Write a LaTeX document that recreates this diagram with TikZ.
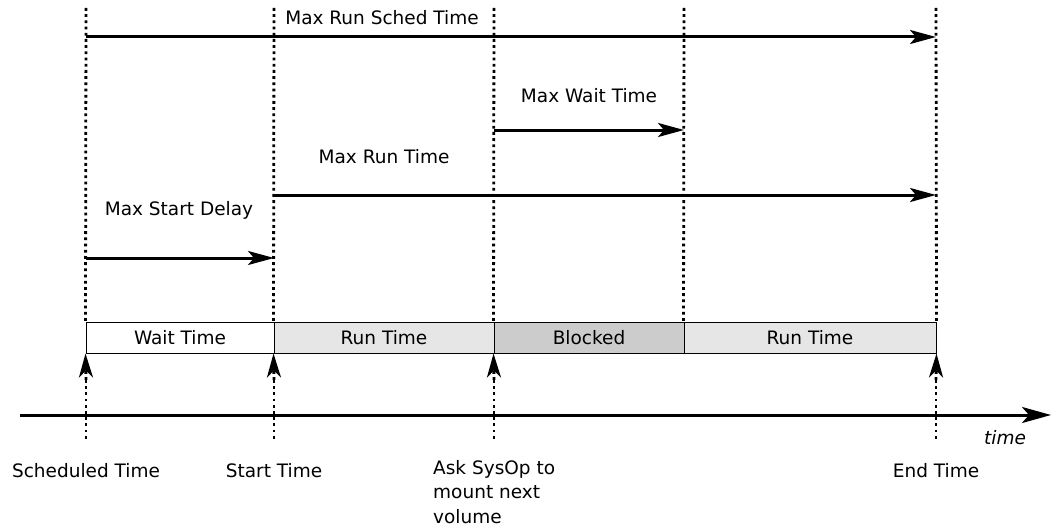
\documentclass[tikz,border=0pt]{standalone}
\usepackage{fontspec}
\setmainfont{DejaVu Sans}
\usetikzlibrary{positioning}
\usetikzlibrary{arrows.meta}
\definecolor{runcol}{RGB}{230, 230, 230}
\definecolor{blockcol}{RGB}{204, 204, 204}

\begin{document}
\begin{tikzpicture}[x=1pt, y=1pt, font=\fontsize{18.5}{24.5}\selectfont]
\tikzset{
  guide/.style={line width=2.8pt, dash pattern=on 2.8pt off 3.4pt},
  span/.style={line width=3pt, -{Stealth[length=26pt, width=14pt, inset=6pt]}},
  eventmark/.style={line width=2.8pt, dash pattern=on 2.8pt off 3.4pt, -{Stealth[length=24pt, width=14pt, inset=7pt]}},
  phase/.style={draw=black, line width=1pt, inner sep=0pt, minimum height=31pt}
}
\useasboundingbox (0pt, 0pt) rectangle (1051pt, -532pt);
% guides
\coordinate (t1) at (86pt, -8pt);
\coordinate (t2) at (274pt, -8pt);
\coordinate (t3) at (494pt, -8pt);
\coordinate (t4) at (684pt, -8pt);
\coordinate (t5) at (936pt, -8pt);
\coordinate (b1) at (86pt, -441pt);
\coordinate (b2) at (274pt, -441pt);
\coordinate (b3) at (494pt, -441pt);
\coordinate (b5) at (936pt, -441pt);
\coordinate (m1) at (86pt, -380pt);
\coordinate (m2) at (274pt, -380pt);
\coordinate (m3) at (494pt, -380pt);
\coordinate (m5) at (936pt, -380pt);
% phases
\node (wait) [phase, fill=white, minimum width=188pt] at (180pt, -337.5pt) {Wait Time};
\node (run1) [phase, fill=runcol, minimum width=220pt] at (384pt, -337.5pt) {Run Time};
\node (block) [phase, fill=blockcol, minimum width=190pt] at (589pt, -337.5pt) {Blocked};
\node (run2) [phase, fill=runcol, minimum width=252pt] at (810pt, -337.5pt) {Run Time};
\draw [guide] (t1) to (wait.north west);
\draw [guide] (t2) to (run1.north west);
\draw [guide] (t3) to (block.north west);
\draw [guide] (t4) to (run2.north west);
\draw [guide] (t5) to (run2.north east);
\draw [guide] (m1) to (b1);
\draw [guide] (m2) to (b2);
\draw [guide] (m3) to (b3);
\draw [guide] (m5) to (b5);
\draw [eventmark] (m1) to (wait.south west);
\draw [eventmark] (m2) to (run1.south west);
\draw [eventmark] (m3) to (block.south west);
\draw [eventmark] (m5) to (run2.south east);
% time axis
\coordinate (a0) at (20pt, -415pt);
\coordinate (a1) at (1051pt, -415pt);
\draw [line width=3pt, -{Stealth[length=29pt, width=16pt, inset=7pt]}] (a0) to (a1);
\node (time) at (1005pt, -438pt) {\itshape time};
% limits
\coordinate (s1) at (86pt, -37pt);
\coordinate (e1) at (936pt, -37pt);
\draw [span] (s1) to (e1);
\node (sched) at (382pt, -18pt) {Max Run Sched Time};
\coordinate (s2) at (494pt, -130pt);
\coordinate (e2) at (684pt, -130pt);
\draw [span] (s2) to (e2);
\node (waitmax) at (589pt, -96pt) {Max Wait Time};
\coordinate (s3) at (274pt, -195pt);
\coordinate (e3) at (936pt, -195pt);
\draw [span] (s3) to (e3);
\node (runmax) at (384pt, -157pt) {Max Run Time};
\coordinate (s4) at (86pt, -258pt);
\coordinate (e4) at (274pt, -258pt);
\draw [span] (s4) to (e4);
\node (delay) at (179pt, -210pt) {Max Start Delay};
% events
\node (evsched) at (86pt, -471pt) {Scheduled Time};
\node (evstart) at (274pt, -471pt) {Start Time};
\node (evask) [align=left, anchor=north west, inner sep=0pt] at (433pt, -460pt) {Ask SysOp to\\mount next\\volume};
\node (evend) at (936pt, -471pt) {End Time};
\end{tikzpicture}
\end{document}
